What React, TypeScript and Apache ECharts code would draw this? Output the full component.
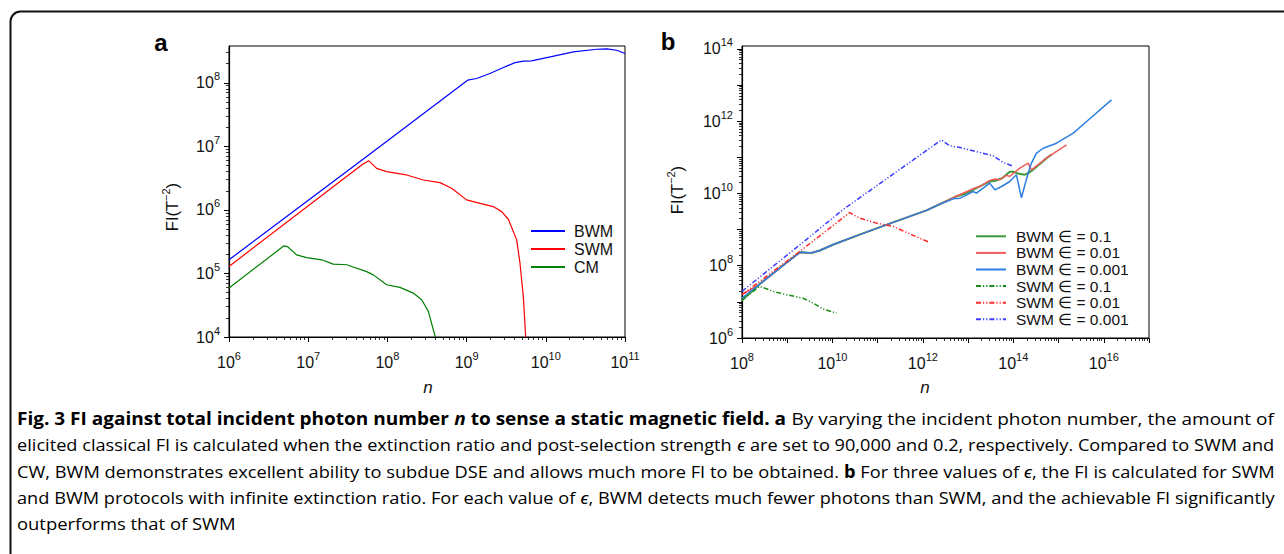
import React, { useEffect, useRef } from "react";
import * as echarts from "echarts";

// ---------- Panel a data: [n, FI] ----------
const A_BWM: [number, number][] = [
  [1e6, 1.64e5], [5.8e7, 7.31e6], [1.03e9, 1.1e8], [1.34e9, 1.17e8], [1.97e9, 1.4e8],
  [2.91e9, 1.74e8], [4.08e9, 2.08e8], [5.2e9, 2.19e8], [6.6e9, 2.21e8], [1.03e10, 2.5e8],
  [2.23e10, 3.07e8], [4.39e10, 3.38e8], [5.9e10, 3.42e8], [7.85e10, 3.26e8], [1e11, 2.89e8],
];
const A_SWM: [number, number][] = [
  [1e6, 1.29e5], [4.73e7, 5.09e6], [5.8e7, 5.96e6], [7.31e7, 4.51e6], [9.77e7, 4.0e6],
  [1.75e8, 3.55e6], [2.84e8, 2.96e6], [4.61e8, 2.69e6], [6.47e8, 2.19e6], [1e9, 1.44e6],
  [1.48e9, 1.27e6], [2.17e9, 1.13e6], [2.77e9, 9.4e5], [3.37e9, 7.13e5], [4.29e9, 3.38e5],
  [4.72e9, 1.45e5], [5.2e9, 4.36e4], [5.57e9, 1e4],
];
const A_CM: [number, number][] = [
  [1e6, 5.9e4], [4.94e6, 2.72e5], [5.46e6, 2.65e5], [7.14e6, 1.96e5], [9.55e6, 1.78e5],
  [1.48e7, 1.64e5], [2.07e7, 1.4e5], [3.06e7, 1.37e5], [5.47e7, 1.07e5], [6.64e7, 9.5e4],
  [9.77e7, 6.64e4], [1.44e8, 6.03e4], [2.12e8, 4.91e4], [2.71e8, 3.85e4], [3.29e8, 2.53e4],
  [3.8e8, 1.3e4], [4.03e8, 1e4],
];

// ---------- Panel b data: [n, FI] ----------
const B_BWM_1: [number, number][] = [
  [1e8, 1.1e7], [2.51e8, 3.16e7], [1e9, 1.26e8], [1.89e9, 2.34e8], [3.39e9, 2.24e8],
  [5.25e9, 2.63e8], [1.02e10, 3.8e8], [3.98e10, 7.24e8], [2.19e11, 1.58e9], [1.2e12, 3.39e9],
  [2.51e12, 5.25e9], [5.01e12, 7.94e9], [8.91e12, 1e10], [1.29e13, 1.26e10], [2e13, 1.66e10],
  [3.01e13, 2.14e10], [3.98e13, 2.24e10], [5.62e13, 2.63e10], [8.32e13, 3.98e10], [1e14, 3.98e10],
  [1.26e14, 3.55e10], [1.78e14, 3.31e10], [2.09e14, 3.55e10], [2.75e14, 4.57e10], [3.98e14, 6.76e10],
  [5.37e14, 9.33e10], [7.08e14, 1.2e11],
];
const B_BWM_01: [number, number][] = [
  [1e8, 1.58e7], [2.51e8, 3.16e7], [1e9, 1.26e8], [1.89e9, 2.34e8], [3.39e9, 2.24e8],
  [5.25e9, 2.63e8], [1.02e10, 3.8e8], [3.98e10, 7.24e8], [2.19e11, 1.58e9], [1.2e12, 3.39e9],
  [2.51e12, 5.25e9], [5.01e12, 7.94e9], [1.29e13, 1.35e10], [2e13, 1.66e10], [3.01e13, 2.29e10],
  [3.98e13, 2.51e10], [5.01e13, 2.4e10], [7.08e13, 3.16e10], [8.32e13, 2.95e10], [1.39e14, 5.01e10],
  [2.12e14, 6.92e10], [2.51e14, 4.47e10], [3.16e14, 5.62e10], [5.37e14, 9.44e10], [1.5e15, 2.21e11],
];
const B_BWM_001: [number, number][] = [
  [1e8, 1.28e7], [2.51e8, 3.16e7], [1e9, 1.26e8], [1.89e9, 2.34e8], [3.39e9, 2.24e8],
  [5.25e9, 2.63e8], [1.02e10, 3.8e8], [3.98e10, 7.24e8], [2.19e11, 1.58e9], [1.2e12, 3.39e9],
  [2.37e12, 5.01e9], [4.67e12, 7.08e9], [6.61e12, 7.41e9], [8.43e12, 8.59e9], [1.29e13, 1.13e10],
  [1.53e13, 1.02e10], [3.01e13, 1.93e10], [3.89e13, 1.26e10], [5.62e13, 1.58e10], [8.32e13, 2.14e10],
  [1.17e14, 3.27e10], [1.51e14, 7.59e9], [2.12e14, 3.63e10], [2.51e14, 6.92e10], [3.26e14, 1.3e11],
  [4.57e14, 1.78e11], [9.02e14, 2.45e11], [2.11e15, 4.65e11], [4.17e15, 9.77e11], [1.48e16, 3.89e12],
];
const B_SWM_1: [number, number][] = [
  [1e8, 1.1e7], [2.45e8, 2.69e7], [4.9e8, 1.95e7], [9.55e8, 1.58e7], [2.24e9, 1.26e7],
  [3.72e9, 9.33e6], [6.17e9, 6.31e6], [1.23e10, 4.9e6],
];
const B_SWM_01: [number, number][] = [
  [1e8, 1.58e7], [1.91e9, 2.51e8], [2.4e10, 2.95e9], [3.98e10, 2.09e9], [9.33e10, 1.51e9],
  [2.19e11, 1.23e9], [5.13e11, 7.59e8], [1.38e12, 4.47e8],
];
const B_SWM_001: [number, number][] = [
  [1e8, 1.95e7], [2.63e9, 5.25e8], [1.7e10, 3.55e9], [2.57e12, 3.02e11], [3.89e12, 2.09e11],
  [6.61e12, 1.86e11], [1.82e13, 1.35e11], [3.55e13, 1.1e11], [5.89e13, 7.24e10], [1e14, 5.62e10],
];

const A_NAMES = ["BWM", "SWM", "CM"];
const B_NAMES = [
  "BWM \u2208 = 0.1", "BWM \u2208 = 0.01", "BWM \u2208 = 0.001",
  "SWM \u2208 = 0.1", "SWM \u2208 = 0.01", "SWM \u2208 = 0.001",
];

const CAPTION: [string, string][][] = [
  [["b", "Fig. 3 FI against total incident photon number "], ["bi", "n"], ["b", " to sense a static magnetic field. a"], ["r", " By varying the incident photon number, the amount of"]],
  [["r", "elicited classical FI is calculated when the extinction ratio and post-selection strength "], ["i", "\u03f5"], ["r", " are set to 90,000 and 0.2, respectively. Compared to SWM and"]],
  [["r", "CW, BWM demonstrates excellent ability to subdue DSE and allows much more FI to be obtained. "], ["b", "b"], ["r", " For three values of "], ["i", "\u03f5"], ["r", ", the FI is calculated for SWM"]],
  [["r", "and BWM protocols with infinite extinction ratio. For each value of "], ["i", "\u03f5"], ["r", ", BWM detects much fewer photons than SWM, and the achievable FI significantly"]],
  [["r", "outperforms that of SWM"]],
];

const AXIS_FONT = "'Liberation Sans', Arial, Helvetica, sans-serif";
const CAP_FONT = "'Open Sans', 'Noto Sans', 'DejaVu Sans', sans-serif";
const CAP_SIZE = 17;

const LABEL_RICH = {
  b: { fontFamily: AXIS_FONT, fontSize: 16, lineHeight: 24, color: "#111" },
  s: { fontFamily: AXIS_FONT, fontSize: 11, lineHeight: 12, verticalAlign: "top", color: "#111" },
};

const pow10Label = (v: number) => `{b|10}{s|${Math.round(Math.log10(v))}}`;

function decades(a: number, b: number, step = 1) {
  const r: number[] = [];
  for (let e = a; e <= b; e += step) r.push(Number(`1e${e}`));
  return r;
}
function minors(a: number, b: number, max: number) {
  const r: number[] = [];
  for (let e = a; e <= b; e++) for (let k = 2; k <= 9; k++) {
    const v = Number(`${k}e${e}`);
    if (v <= max) r.push(v);
  }
  return r;
}

function axisPair(dim: "x" | "y", gridIndex: number, min: number, max: number, major: number[], labels: number[], minor: number[], margin: number) {
  const base = {
    type: "log", logBase: 10, gridIndex, min, max,
    position: dim === "x" ? "bottom" : "left",
    splitLine: { show: false }, minorTick: { show: false }, minorSplitLine: { show: false },
  };
  return [
    {
      ...base,
      axisLine: { show: true, onZero: false, lineStyle: { color: "#000", width: 1.2 } },
      axisTick: { show: true, inside: false, length: 5, customValues: major, lineStyle: { color: "#000", width: 1 } },
      axisLabel: { show: true, customValues: labels, formatter: pow10Label, margin, rich: LABEL_RICH, color: "#111" },
    },
    {
      ...base,
      axisLine: { show: false },
      axisTick: { show: true, inside: false, length: 3, customValues: minor, lineStyle: { color: "#000", width: 0.8 } },
      axisLabel: { show: false },
    },
  ];
}

function lineSeries(name: string, data: [number, number][], color: string, width: number, idx: number, dash?: number[]) {
  return {
    type: "line", name, data, xAxisIndex: idx, yAxisIndex: idx,
    showSymbol: false, symbol: "none", smooth: false, clip: true,
    lineStyle: { color, width, type: dash ? dash : "solid" },
    itemStyle: { color },
    emphasis: { disabled: true },
  };
}

const DASH = [5, 2, 1.2, 2, 1.2, 2];

function fontOf(kind: string) {
  const style = kind === "i" || kind === "bi" ? "italic" : "normal";
  const weight = kind === "b" || kind === "bi" ? "bold" : "normal";
  return `${style} ${weight} ${CAP_SIZE}px ${CAP_FONT}`;
}

function captionElements() {
  const canvas = document.createElement("canvas");
  const ctx = canvas.getContext("2d")!;
  const widths = CAPTION.map((line) =>
    line.reduce((s, [k, t]) => {
      ctx.font = fontOf(k);
      return s + ctx.measureText(t).width;
    }, 0)
  );
  const target = 1258;
  const scales = widths.map((w) => target / w);
  const avg = (scales[0] + scales[1] + scales[2] + scales[3]) / 4;
  const rich: any = {};
  ["r", "b", "bi", "i"].forEach((k) => {
    rich[k] = {
      fontFamily: CAP_FONT, fontSize: CAP_SIZE,
      fontStyle: k === "i" || k === "bi" ? "italic" : "normal",
      fontWeight: k === "b" || k === "bi" ? "bold" : "normal",
      color: k === "b" || k === "bi" ? "#000" : "#2a2a2a",
    };
  });
  return CAPTION.map((line, i) => ({
    type: "text", x: 17, y: 418 + i * 26.4, scaleX: i < 4 ? scales[i] : avg, silent: true,
    style: {
      text: line.map(([k, t]) => `{${k}|${t}}`).join(""), rich,
      fontFamily: CAP_FONT, fontSize: CAP_SIZE,
      align: "left", verticalAlign: "middle", textAlign: "left", textVerticalAlign: "middle",
    },
  }));
}

function textEl(x: number, y: number, text: string, extra: any = {}, rotation = 0) {
  return {
    type: "text", x, y, rotation, silent: true,
    style: {
      text, fontFamily: AXIS_FONT, fontSize: 16, fill: "#111",
      align: "center", verticalAlign: "middle", textAlign: "center", textVerticalAlign: "middle",
      ...extra,
    },
  };
}

const NAME_RICH = {
  n: { fontFamily: AXIS_FONT, fontSize: 16.5, lineHeight: 24, color: "#111" },
  s: { fontFamily: AXIS_FONT, fontSize: 11, lineHeight: 12, verticalAlign: "top", color: "#111" },
};

export default function App() {
  const ref = useRef<HTMLDivElement>(null);
  useEffect(() => {
    if (!ref.current) return;
    const chart = echarts.init(ref.current, undefined, { renderer: "svg" });
    const xA = axisPair("x", 0, 1e6, 1e11, decades(6, 11), decades(6, 11), minors(6, 10, 1e11), 13);
    const yA = axisPair("y", 0, 1e4, 3.8e8, decades(4, 8), decades(4, 8), minors(4, 8, 3.8e8), 9);
    const xB = axisPair("x", 1, 1e8, 1e17, decades(8, 17), decades(8, 16, 2), minors(8, 16, 1e17), 13);
    const yB = axisPair("y", 1, 1e6, 1.2e14, decades(6, 14), decades(6, 14, 2), minors(6, 14, 1.2e14), 9);

    const option: any = {
      animation: false,
      backgroundColor: "#fff",
      grid: [
        { left: 229, top: 46, width: 396, height: 291, show: true, borderColor: "#000", borderWidth: 1, backgroundColor: "transparent", containLabel: false, outerBoundsMode: "none" },
        { left: 742, top: 46, width: 407, height: 292, show: true, borderColor: "#000", borderWidth: 1, backgroundColor: "transparent", containLabel: false, outerBoundsMode: "none" },
      ],
      xAxis: [...xA, ...xB],
      yAxis: [...yA, ...yB],
      legend: [
        {
          data: A_NAMES, orient: "vertical", left: 530, top: 222, padding: 0, itemWidth: 34, itemHeight: 10, itemGap: 0,
          selectedMode: false, itemStyle: { opacity: 0 },
          textStyle: { fontFamily: AXIS_FONT, fontSize: 16, lineHeight: 18, color: "#111", padding: [0, 0, 0, 4] },
        },
        {
          data: B_NAMES, orient: "vertical", left: 975, top: 228, padding: 0, itemWidth: 30, itemHeight: 10, itemGap: 0,
          selectedMode: false, itemStyle: { opacity: 0 },
          textStyle: { fontFamily: AXIS_FONT, fontSize: 15.5, lineHeight: 16.6, color: "#111", padding: [0, 0, 0, 5] },
        },
      ],
      series: [
        lineSeries(A_NAMES[0], A_BWM, "#0000ff", 1.2, 0),
        lineSeries(A_NAMES[1], A_SWM, "#ff0000", 1.2, 0),
        lineSeries(A_NAMES[2], A_CM, "#008000", 1.2, 0),
        lineSeries(B_NAMES[0], B_BWM_1, "#3c9a3c", 2, 2),
        lineSeries(B_NAMES[1], B_BWM_01, "#f25c5c", 1.5, 2),
        lineSeries(B_NAMES[2], B_BWM_001, "#2c7fe0", 1.5, 2),
        lineSeries(B_NAMES[3], B_SWM_1, "#178c17", 1.5, 2, DASH),
        lineSeries(B_NAMES[4], B_SWM_01, "#ff2a2a", 1.5, 2, DASH),
        lineSeries(B_NAMES[5], B_SWM_001, "#3c3cff", 1.5, 2, DASH),
      ],
      graphic: {
        elements: [
          {
            type: "rect", silent: true,
            shape: { x: 10.5, y: 11.5, width: 1400, height: 700, r: 10 },
            style: { fill: "none", stroke: "#111", lineWidth: 2 },
          },
          textEl(161, 42, "a", { fontWeight: "bold", fontSize: 24, fill: "#000" }),
          textEl(668, 41, "b", { fontWeight: "bold", fontSize: 24, fill: "#000" }),
          textEl(172, 207, "{n|FI(T}{s|\u22122}{n|)}", { rich: NAME_RICH }, Math.PI / 2),
          textEl(677, 190, "{n|FI(T}{s|\u22122}{n|)}", { rich: NAME_RICH }, Math.PI / 2),
          textEl(428, 387, "n", { fontStyle: "italic", fontSize: 17 }),
          textEl(925, 387, "n", { fontStyle: "italic", fontSize: 17 }),
          ...captionElements(),
        ],
      },
    };
    chart.setOption(option);
    return () => chart.dispose();
  }, []);
  return (
    <div
      ref={ref}
      style={{ position: "fixed", left: 0, top: 0, width: 1284, height: 554, background: "#fff" }}
    />
  );
}
